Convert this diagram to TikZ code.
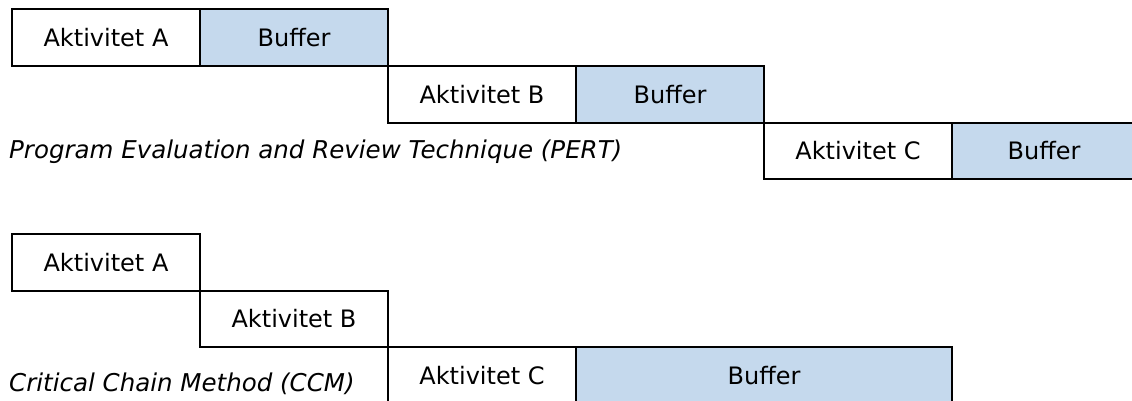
\documentclass[tikz,border=0pt]{standalone}
\usepackage{fontspec}
\setmainfont{DejaVu Sans}
\definecolor{bufblue}{RGB}{197,217,237}
\begin{document}
\begin{tikzpicture}[x=1pt,y=-1pt,
  task/.style={draw=black,line width=2pt,rectangle,inner sep=0pt,anchor=north west,
    minimum height=57pt,font=\fontsize{24}{28}\selectfont},
  act/.style={task,fill=white,minimum width=188pt},
  buf/.style={task,fill=bufblue},
  caption/.style={anchor=west,inner sep=0pt,font=\fontsize{24.5}{28}\selectfont\itshape}]
\useasboundingbox (0,0) rectangle (1132,400);

% PERT: every activity carries its own buffer
\node[act] (pa) at (11,8) {Aktivitet A};
\node[buf,minimum width=188pt] (pab) at (199,8) {Buffer};
\node[act] (pb) at (387,65) {Aktivitet B};
\node[buf,minimum width=188pt] (pbb) at (575,65) {Buffer};
\node[act,minimum height=56pt] (pc) at (763,122) {Aktivitet C};
\node[buf,minimum width=184pt,minimum height=56pt] (pcb) at (951,122) {Buffer};
\node[caption] (pert) at (9,152) {Program Evaluation and Review Technique (PERT)};

% CCM: one shared buffer at the end of the chain
\node[act] (ca) at (11,233) {Aktivitet A};
\node[act,minimum height=56pt] (cb) at (199,290) {Aktivitet B};
\node[act] (cc) at (387,346) {Aktivitet C};
\node[buf,minimum width=376pt] (ccb) at (575,346) {Buffer};
\node[caption] (ccm) at (9,384) {Critical Chain Method (CCM)};
\end{tikzpicture}
\end{document}
